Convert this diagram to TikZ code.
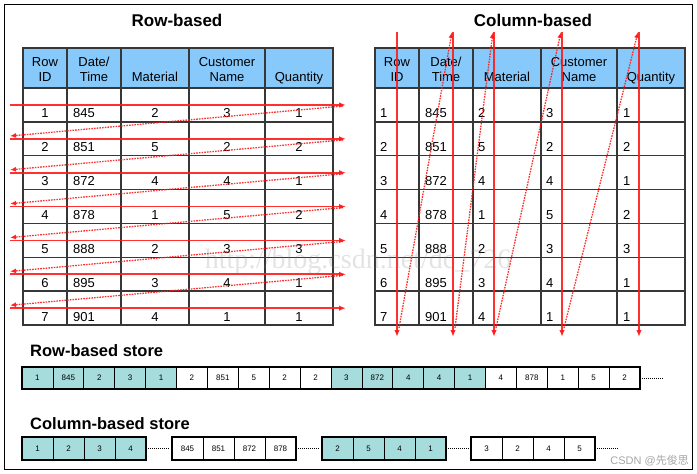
\documentclass[tikz,border=0pt]{standalone}
\usepackage{fontspec}
\setmainfont{Liberation Sans}
\newfontfamily\wmfont{Liberation Serif}
\newfontfamily\cjkfont{Noto Sans CJK SC}
\usetikzlibrary{arrows.meta,positioning}

\definecolor{hdrblue}{RGB}{135,201,250}
\definecolor{storeteal}{RGB}{166,220,220}
\definecolor{tblline}{RGB}{55,55,55}
\definecolor{flowred}{RGB}{255,25,25}

\begin{document}
\begin{tikzpicture}[x=1pt, y=-1pt,
    ttl/.style={font=\bfseries\fontsize{17}{19}\selectfont},
    sttl/.style={font=\bfseries\fontsize{16.5}{19}\selectfont, anchor=base west, inner sep=0pt},
    hdr/.style={font=\fontsize{13}{15}\selectfont, anchor=base, inner sep=0pt},
    cellc/.style={font=\fontsize{13}{15}\selectfont, anchor=base, inner sep=0pt},
    celll/.style={font=\fontsize{13}{15}\selectfont, anchor=base west, inner sep=0pt},
    tblgrid/.style={draw=tblline, line width=1.4pt},
    flow/.style={draw=flowred, line width=1.8pt, opacity=0.9, -{Latex[length=7pt,width=5.5pt]}},
    flowback/.style={draw=flowred, line width=1.3pt, opacity=0.9, dash pattern=on 1.6pt off 1.1pt, -{Latex[length=6pt,width=5pt]}},
    storecell/.style={draw=black, line width=0.7pt, minimum width=30.9pt, minimum height=22pt, inner sep=0pt, font=\fontsize{8}{9}\selectfont},
    storebox/.style={draw=black, line width=2.2pt},
    storegap/.style={draw=black, line width=0.8pt, dash pattern=on 1pt off 1pt}
]
\useasboundingbox (0,0) rectangle (697,474);
\draw[line width=1pt] (4,4) rectangle (692,469);

% --- Titles ---
\node[ttl] (rowttl) at (177,20) {Row-based};
\node[ttl] (colttl) at (533,20) {Column-based};

% --- Both tables: left at 0, right shifted by 352 ---
\foreach \sx/\tb in {0/l, 352/r} {
  \begin{scope}[xshift=\sx]
    \fill[hdrblue] (23,48) rectangle (333,88);
    \draw[tblgrid] (23,48) rectangle (333,325);
    \foreach \x in {67,121,189,265} \draw[tblgrid] (\x,48) -- (\x,325);
    \foreach \i in {0,...,6} \draw[tblgrid] (23,{88+\i*33.86}) -- (333,{88+\i*33.86});
    % header
    \node[hdr] (\tb hid1) at (45,66.5) {Row};
    \node[hdr] (\tb hid2) at (45,81.5) {ID};
    \node[hdr] (\tb hdt1) at (94,66.5) {Date/};
    \node[hdr] (\tb hdt2) at (94,81.5) {Time};
    \node[hdr] (\tb hmat) at (155,81.5) {Material};
    \node[hdr] (\tb hcus1) at (227,66.5) {Customer};
    \node[hdr] (\tb hcus2) at (227,81.5) {Name};
    \node[hdr] (\tb hqty) at (299,81.5) {Quantity};
  \end{scope}
}

% --- Data rows ---
\foreach \id/\dt/\mat/\cus/\qty [count=\i] in {1/845/2/3/1, 2/851/5/2/2, 3/872/4/4/1, 4/878/1/5/2, 5/888/2/3/3, 6/895/3/4/1, 7/901/4/1/1} {
  \pgfmathsetmacro\y{88+\i*33.86-4}
  % row-based table
  \node[cellc] (lid\i)  at (45,\y)  {\id};
  \node[celll] (ldt\i)  at (73,\y)  {\dt};
  \node[cellc] (lmat\i) at (155,\y) {\mat};
  \node[cellc] (lcus\i) at (227,\y) {\cus};
  \node[cellc] (lqty\i) at (299,\y) {\qty};
  % column-based table
  \node[celll] (rid\i)  at (380,\y) {\id};
  \node[celll] (rdt\i)  at (425,\y) {\dt};
  \node[celll] (rmat\i) at (478,\y) {\mat};
  \node[celll] (rcus\i) at (546,\y) {\cus};
  \node[celll] (rqty\i) at (623,\y) {\qty};
}

% --- Row-wise scan (left) ---
\foreach \i in {0,...,6} \draw[flow] (10,{105+\i*33.86}) -- (346,{105+\i*33.86});
\foreach \i in {0,...,5} \draw[flowback] (343,{106+\i*33.86}) -- (10,{136+\i*33.86});

% --- Column-wise scan (right) ---
\foreach \x in {397,453,494,562,639} \draw[flow] (\x,32) -- (\x,337);
\foreach \a/\b in {397/453, 453/494, 494/562, 562/639} \draw[flowback] (\a+2,328) -- (\b-1,32);

% --- Row-based store ---
\node[sttl] (rstorettl) at (30,356) {Row-based store};
\foreach \v [count=\i from 0] in {1,845,2,3,1,2,851,5,2,2,3,872,4,4,1,4,878,1,5,2} {
  \pgfmathtruncatemacro\g{mod(int(\i/5),2)}
  \ifnum\g=0 \def\cf{storeteal}\else\def\cf{white}\fi
  \node[storecell, fill=\cf] (rs\i) at ({22+30.9*\i+15.45},378) {\v};
}
\draw[storebox] (rs0.north west) rectangle (rs19.south east);
\draw[storegap] ([xshift=2pt]rs19.east) -- ++(22,0);

% --- Column-based store ---
\node[sttl] (cstorettl) at (30,429) {Column-based store};
\foreach \gx/\cf/\vals [count=\g] in {22/storeteal/{1,2,3,4}, 172/white/{845,851,872,878}, 322/storeteal/{2,5,4,1}, 471/white/{3,2,4,5}} {
  \foreach \v [count=\j from 0] in \vals
    \node[storecell, fill=\cf] (cs\g-\j) at ({\gx+31*\j+15.5},448.5) {\v};
  \draw[storebox] (cs\g-0.north west) rectangle (cs\g-3.south east);
  \draw[storegap] ([xshift=2pt]cs\g-3.east) -- ++(22,0);
}

% --- Watermarks ---
\node[font=\wmfont\fontsize{28}{30}\selectfont, text=gray, opacity=0.22] (blogmark) at (358,262) {http://blog.csdn.net/dc\_726};
\node[anchor=east, text=gray!70, font=\fontsize{11}{13}\selectfont, inner sep=0pt] (csdnmark) at (689,461) {CSDN @{\cjkfont 先俊思}};
\end{tikzpicture}
\end{document}
